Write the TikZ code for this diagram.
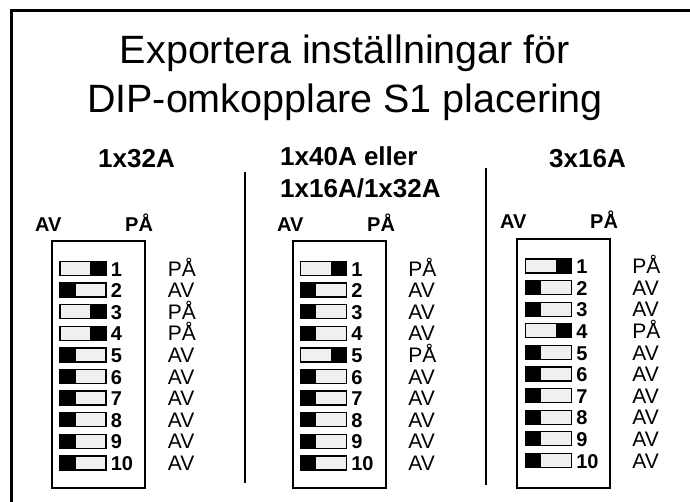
\documentclass[tikz,border=0pt]{standalone}
\usepackage{fontspec}
\setmainfont{Liberation Sans}
\usetikzlibrary{positioning}

\begin{document}
\begin{tikzpicture}[x=1pt, y=-1pt,
    switchbox/.style={draw, line width=1.3pt, fill=black!6, minimum width=46pt, minimum height=14pt, inner sep=0pt},
    knob/.style={fill=black, minimum width=16pt, minimum height=14pt, inner sep=0pt},
    num/.style={font=\fontsize{20}{20}\selectfont\bfseries, inner sep=0pt, anchor=base west},
    state/.style={font=\fontsize{21}{21}\selectfont, inner sep=0pt, anchor=base west},
    sidelabel/.style={font=\fontsize{20}{20}\selectfont\bfseries, inner sep=0pt, anchor=base west},
    header/.style={font=\fontsize{26}{30}\selectfont\bfseries, inner sep=0pt, anchor=base west},
    titletext/.style={font=\fontsize{39.5}{44}\selectfont, inner sep=0pt, anchor=base},
    panel/.style={draw, line width=2pt, inner sep=0pt, minimum width=93pt}]

    \useasboundingbox (0,0) rectangle (690,501);
    \clip (0,0) rectangle (690,501);

    % frame and title
    \draw[line width=3pt] (11.5,530) -- (11.5,10.5) -- (720,10.5);
    \node[titletext] (t1) at (345,63) {Exportera inställningar för};
    \node[titletext] (t2) at (345,112) {DIP-omkopplare S1 placering};

    % column headers
    \node[header] (hl) at (98,167) {1x32A};
    \node[header] (hm1) at (280,165) {1x40A eller};
    \node[header] (hm2) at (280,197) {1x16A/1x32A};
    \node[header] (hr) at (549,167) {3x16A};
    \draw[line width=2pt] (245,172) -- (245,483);
    \draw[line width=2pt] (485.5,168) -- (485.5,485);

    % AV / PÅ above each panel
    \node[sidelabel] (avl) at (35,231) {AV};
    \node[sidelabel] (pal) at (125,231) {PÅ};
    \node[sidelabel] (avm) at (277,231) {AV};
    \node[sidelabel] (pam) at (367,231) {PÅ};
    \node[sidelabel] (avr) at (500,228) {AV};
    \node[sidelabel] (par) at (590,228) {PÅ};

    % panels
    \node[panel, minimum height=247pt] (boxl) at (98.5,364.5) {};
    \node[panel, minimum height=247pt] (boxm) at (339,364.5) {};
    \node[panel, minimum height=249pt] (boxr) at (563.5,363.5) {};

    % left column
    \foreach \n/\k/\st in {1/east/PÅ, 2/west/AV, 3/east/PÅ, 4/east/PÅ, 5/west/AV,
                           6/west/AV, 7/west/AV, 8/west/AV, 9/west/AV, 10/west/AV} {
        \node[switchbox] (l\n) at (83,{268.5+21.6*(\n-1)}) {};
        \node[knob, anchor=\k] at (l\n.\k) {};
        \node[num] (nl\n) at ([xshift=4pt]l\n.south east) {\n};
        \node[state] (sl\n) at ([xshift=61pt]l\n.south east) {\st};
    }

    % middle column
    \foreach \n/\k/\st in {1/east/PÅ, 2/west/AV, 3/west/AV, 4/west/AV, 5/east/PÅ,
                           6/west/AV, 7/west/AV, 8/west/AV, 9/west/AV, 10/west/AV} {
        \node[switchbox] (m\n) at (323.5,{268.5+21.6*(\n-1)}) {};
        \node[knob, anchor=\k] at (m\n.\k) {};
        \node[num] (nm\n) at ([xshift=4pt]m\n.south east) {\n};
        \node[state] (sm\n) at ([xshift=61pt]m\n.south east) {\st};
    }

    % right column
    \foreach \n/\k/\st in {1/east/PÅ, 2/west/AV, 3/west/AV, 4/east/PÅ, 5/west/AV,
                           6/west/AV, 7/west/AV, 8/west/AV, 9/west/AV, 10/west/AV} {
        \node[switchbox] (r\n) at (548.5,{266+21.6*(\n-1)}) {};
        \node[knob, anchor=\k] at (r\n.\k) {};
        \node[num] (nr\n) at ([xshift=4pt]r\n.south east) {\n};
        \node[state] (sr\n) at ([xshift=60pt]r\n.south east) {\st};
    }
\end{tikzpicture}
\end{document}
